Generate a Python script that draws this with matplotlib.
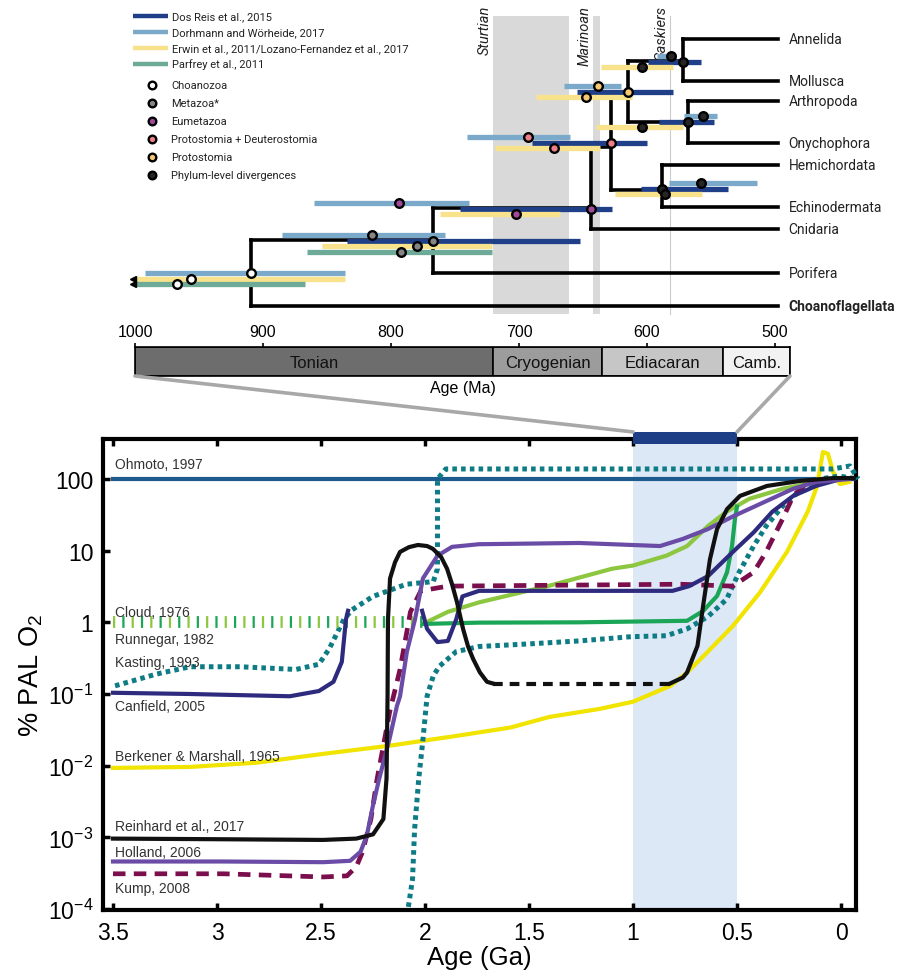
import numpy as np
import matplotlib
matplotlib.use('Agg')
import matplotlib.pyplot as plt
import matplotlib.transforms as mtransforms
from matplotlib.lines import Line2D
from matplotlib.patches import Rectangle, ConnectionPatch
from matplotlib.ticker import NullLocator

plt.rcParams['font.family'] = ['Liberation Sans', 'DejaVu Sans']
plt.rcParams['mathtext.default'] = 'regular'
plt.rcParams['lines.scale_dashes'] = False

# ---------------------------------------------------------------------------
# Divergence-time estimates (Ma): (oldest bound, youngest bound, estimate)
# np.inf marks an interval that runs beyond the left edge of the time axis.
# ---------------------------------------------------------------------------
dos_reis_2015 = {
    'Metazoa': (834, 652, 767),
    'Eumetazoa': (746, 627, 644),
    'Protostomia + Deuterostomia': (690, 600, 628),
    'Protostomia': (655, 580, 615),
    'Spiralia': (599, 558, 572),
    'Ecdysozoa': (591, 548, 568),
    'Deuterostomia': (605, 537, 588),
}
dohrmann_2017 = {
    'Choanozoa': (992, 836, 909),
    'Metazoa': (885, 758, 815),
    'Eumetazoa': (860, 739, 794),
    'Protostomia + Deuterostomia': (741, 660, 693),
    'Protostomia': (665, 620, 638),
    'Spiralia': (592, 577, 581),
    'Ecdysozoa': (571, 545, 556),
    'Deuterostomia': (583, 514, 558),
}
erwin_2011 = {
    'Choanozoa': (np.inf, 836, 956),
    'Metazoa': (854, 721, 780),
    'Eumetazoa': (762, 668, 702),
    'Protostomia + Deuterostomia': (719, 637, 673),
    'Protostomia': (687, 612, 648),
    'Spiralia': (636, 580, 604),
    'Ecdysozoa': (640, 572, 604),
    'Deuterostomia': (625, 557, 586),
}
parfrey_2011 = {
    'Choanozoa': (np.inf, 867, 967),
    'Metazoa': (866, 721, 792),
}

# tree topology (internal node -> two children) and the extant tips
tree_children = {
    'Choanozoa': ['Metazoa', 'Choanoflagellata'],
    'Metazoa': ['Eumetazoa', 'Porifera'],
    'Eumetazoa': ['Protostomia + Deuterostomia', 'Cnidaria'],
    'Protostomia + Deuterostomia': ['Protostomia', 'Deuterostomia'],
    'Protostomia': ['Spiralia', 'Ecdysozoa'],
    'Spiralia': ['Annelida', 'Mollusca'],
    'Ecdysozoa': ['Arthropoda', 'Onychophora'],
    'Deuterostomia': ['Hemichordata', 'Echinodermata'],
}
tips = ['Annelida', 'Mollusca', 'Arthropoda', 'Onychophora', 'Hemichordata',
        'Echinodermata', 'Cnidaria', 'Porifera', 'Choanoflagellata']
tip_age = 498

# glaciations (Ma)
sturtian = (720, 661)
marinoan = (642, 636.5)
gaskiers = 582

# geological periods (Ma)
period_names = ['Tonian', 'Cryogenian', 'Ediacaran', 'Camb.']
period_start = [1000, 720, 635, 541]
period_end = [720, 635, 541, 488.3]
ma_ticks = [1000, 900, 800, 700, 600, 500]

# ---------------------------------------------------------------------------
# Atmospheric O2 reconstructions: age (Ga) and % of present atmospheric level
# ---------------------------------------------------------------------------
ohmoto_1997_age = [3.50, -0.05]
ohmoto_1997_o2 = [100, 100]

cloud_1976_early_age = [3.50, 2.01]
cloud_1976_early_o2 = [1.0, 1.0]
cloud_1976_age = [2.01, 1.89, 1.74, 1.41, 1.10, 1.00, 0.84, 0.74, 0.64, 0.55, 0.44, 0.28, 0.12, 0.00]
cloud_1976_o2 = [0.95, 1.4, 1.9, 3.2, 5.6, 6.2, 8.5, 11.6, 22, 35, 53, 73, 91, 100]

runnegar_1982_early_age = [3.50, 2.01]
runnegar_1982_early_o2 = [1.0, 1.0]
runnegar_1982_age = [2.01, 1.74, 1.26, 0.74, 0.663, 0.596, 0.548, 0.524, 0.510, 0.500]
runnegar_1982_o2 = [0.95, 0.99, 1.0, 1.05, 1.44, 2.33, 5.0, 11.6, 27.6, 41]

kasting_1993_age = [3.49, 3.29, 3.13, 2.89, 2.62, 2.51, 2.46, 2.39, 2.35, 2.25, 2.09,
                    1.96, 1.94, 1.94, 1.94, 1.90, 1.59, 0.04, -0.043, -0.082]
kasting_1993_o2 = [0.13, 0.19, 0.24, 0.24, 0.22, 0.26, 0.43, 1.1, 1.5, 2.3, 3.4,
                   3.7, 5.6, 28, 100, 138, 138, 138, 152, 100]

kasting_1993_low_age = [2.08, 2.06, 2.05, 2.03, 2.01, 1.99, 1.96, 1.93, 1.85, 1.74, 1.50,
                        1.26, 1.01, 0.84, 0.74, 0.64, 0.55, 0.49, 0.42, 0.36, 0.28, 0.20,
                        0.10, 0.01, -0.08]
kasting_1993_low_o2 = [1.07e-4, 2.6e-4, 1.3e-3, 6.6e-3, 0.023, 0.093, 0.18, 0.245, 0.39, 0.46, 0.50,
                       0.55, 0.63, 0.65, 0.81, 1.2, 2.1, 5.0, 11.6, 22, 42, 68,
                       100, 110, 100]

canfield_2005_age = [3.50, 3.13, 2.65, 2.51, 2.44, 2.40, 2.38, 2.37]
canfield_2005_o2 = [0.104, 0.10, 0.093, 0.11, 0.148, 0.28, 1.1, 1.45]
canfield_2005_late_age = [2.014, 1.99, 1.94, 1.89, 1.85, 1.82, 1.74, 1.41, 0.81, 0.73, 0.64,
                          0.52, 0.42, 0.33, 0.23, 0.12, 0.00, -0.06]
canfield_2005_late_o2 = [1.45, 0.81, 0.53, 0.55, 1.1, 2.3, 2.75, 2.75, 2.75, 3.2, 4.4,
                         9.6, 18, 35, 58, 80, 100, 100]

berkner_1965_age = [3.50, 3.13, 2.81, 2.49, 2.17, 1.85, 1.59, 1.40, 1.16, 1.00, 0.82, 0.74,
                    0.64, 0.52, 0.39, 0.26, 0.16, 0.115, 0.087, 0.063, 0.038, 0.005, -0.04]
berkner_1965_o2 = [0.0093, 0.0096, 0.011, 0.0146, 0.019, 0.026, 0.034, 0.048, 0.062, 0.078,
                   0.13, 0.20, 0.39, 0.89, 2.6, 9.6, 35, 80, 238, 225, 125, 85, 91]

reinhard_2017_age = [3.50, 2.97, 2.49, 2.33, 2.25, 2.20, 2.185, 2.18, 2.178, 2.168, 2.144,
                     2.12, 2.077, 2.034, 1.99, 1.962, 1.923, 1.894, 1.87, 1.846, 1.817,
                     1.793, 1.769, 1.736, 1.702, 1.673]
reinhard_2017_o2 = [0.00096, 0.00094, 0.00092, 0.00096, 0.0011, 0.0018, 0.0066, 0.094, 1.1,
                    4.1, 6.9, 9.6, 11.2, 12, 11.6, 10.6, 8.2, 5.6, 3.4, 1.9, 0.81,
                    0.46, 0.31, 0.20, 0.148, 0.14]
reinhard_2017_gap_age = [1.673, 0.822]
reinhard_2017_gap_o2 = [0.14, 0.14]
reinhard_2017_late_age = [0.822, 0.76, 0.74, 0.69, 0.663, 0.63, 0.596, 0.548, 0.486,
                          0.356, 0.197, 0.038, -0.06]
reinhard_2017_late_o2 = [0.14, 0.17, 0.20, 0.47, 1.7, 7.6, 20, 38, 58, 80, 94, 103, 103]

holland_2006_age = [3.50, 2.97, 2.49, 2.36, 2.31, 2.28, 2.25, 2.22, 2.17, 2.135, 2.12, 2.087,
                    2.048, 2.01, 1.94, 1.87, 1.74, 1.26, 0.87, 0.76, 0.64, 0.52, 0.36, 0.23,
                    0.12, -0.04]
holland_2006_o2 = [4.6e-4, 4.6e-4, 4.5e-4, 4.7e-4, 6.3e-4, 1.05e-3, 2.8e-3, 6.6e-3, 0.024,
                   0.068, 0.093, 0.39, 1.1, 4.1, 8.5, 11.3, 12.3, 12.8, 11.6, 14.6, 20, 30,
                   49, 73, 91, 100]

kump_2008_age = [3.50, 2.97, 2.49, 2.375, 2.33, 2.30, 2.26, 2.23, 2.20, 2.17, 2.12, 2.07,
                 2.02, 1.89, 0.77, 0.52, 0.42, 0.36, 0.28, 0.23, 0.18, 0.10, 0.0]
kump_2008_o2 = [3.1e-4, 3.1e-4, 2.8e-4, 2.9e-4, 3.9e-4, 6.3e-4, 1.8e-3, 6.6e-3, 0.019,
                0.056, 0.22, 1.4, 2.75, 3.2, 3.4, 3.2, 5.0, 9.6, 28, 58, 80, 95, 100]

ga_ticks = [3.5, 3, 2.5, 2, 1.5, 1, 0.5, 0]
ga_tick_labels = ['3.5', '3', '2.5', '2', '1.5', '1', '0.5', '0']
o2_ticks = [1e-4, 1e-3, 1e-2, 1e-1, 1, 10, 100]
o2_tick_labels = ['$10^{-4}$', '$10^{-3}$', '$10^{-2}$', '$10^{-1}$', '1', '10', '100']
window_ga = (1.0, 0.5)

# ---------------------------------------------------------------------------
# styling
# ---------------------------------------------------------------------------
C_DOSREIS = '#1f3f88'
C_DOHRMANN = '#7aa9c9'
C_ERWIN = '#f8e38c'
C_PARFREY = '#6daa98'
clade_colors = {
    'Choanozoa': '#ffffff',
    'Metazoa': '#858585',
    'Eumetazoa': '#a04a98',
    'Protostomia + Deuterostomia': '#ec7f88',
    'Protostomia': '#f7c873',
    'Spiralia': '#262626',
    'Ecdysozoa': '#262626',
    'Deuterostomia': '#262626',
}
TOPFONT = ['Roboto', 'DejaVu Sans']

W, H = 897, 978
fig = plt.figure(figsize=(W / 100, H / 100), dpi=100)


def frac(x0, y0, x1, y1):
    return [x0 / W, 1 - y1 / H, (x1 - x0) / W, (y1 - y0) / H]


def fx(px):
    return px / W


def fy(py):
    return 1 - py / H


# ---------------------------------------------------------------------------
# upper panel: dated animal tree
# ---------------------------------------------------------------------------
axt = fig.add_axes(frac(135, 0, 790, 320))
axt.set_xlim(1000, 488.3)
axt.set_ylim(320, 0)
axt.axis('off')

# vertical layout (rows measured from the top of the panel)
row_y = {'Annelida': 40, 'Mollusca': 82, 'Arthropoda': 102, 'Onychophora': 144,
         'Hemichordata': 166, 'Echinodermata': 208, 'Cnidaria': 230, 'Porifera': 274,
         'Choanoflagellata': 307, 'Spiralia': 62, 'Ecdysozoa': 123, 'Deuterostomia': 191,
         'Protostomia': 94, 'Protostomia + Deuterostomia': 148, 'Eumetazoa': 209,
         'Metazoa': 241}
bar_top = {'Choanozoa': 274, 'Metazoa': 236, 'Eumetazoa': 204,
           'Protostomia + Deuterostomia': 138, 'Protostomia': 87, 'Spiralia': 57,
           'Ecdysozoa': 117, 'Deuterostomia': 184}
bar_step = 5.7
band_top, band_bottom = 17, 315

# node ages taken from the Dos Reis estimates (root from Dohrmann & Wörheide)
node_age = {c: v[2] for c, v in dos_reis_2015.items()}
node_age['Choanozoa'] = dohrmann_2017['Choanozoa'][2]

# glaciation bands
axt.fill_betweenx([band_top, band_bottom], sturtian[0], sturtian[1], color='#d9d9d9', lw=0, zorder=0)
axt.fill_betweenx([band_top, band_bottom], marinoan[0], marinoan[1], color='#d9d9d9', lw=0, zorder=0)
axt.plot([gaskiers, gaskiers], [band_top, band_bottom], color='#cccccc', lw=0.8, zorder=0)
for xg, name in [(sturtian[0], 'Sturtian'), (marinoan[0], 'Marinoan'), (gaskiers, 'Gaskiers')]:
    axt.annotate(name, (xg, 6), xytext=(-1.5, 0), textcoords='offset points', rotation=90,
                 ha='right', va='top', style='italic', fontsize=10.5, family=TOPFONT,
                 color='#222222', annotation_clip=False)

# tree branches
for node, kids in tree_children.items():
    x = node_age[node]
    ys = [row_y[k] for k in kids]
    axt.plot([x, x], [min(ys), max(ys)], color='black', lw=2.6,
             solid_capstyle='projecting', zorder=2)
    for k in kids:
        kx = node_age.get(k, tip_age)
        axt.plot([x, kx], [row_y[k], row_y[k]], color='black', lw=2.6,
                 solid_capstyle='projecting', zorder=2)

for t in tips:
    axt.annotate(t, (tip_age, row_y[t]), xytext=(8, 0), textcoords='offset points',
                 ha='left', va='center', fontsize=10, family=TOPFONT,
                 fontweight='bold' if t == 'Choanoflagellata' else 'normal',
                 color='#222222', annotation_clip=False)

# uncertainty bars and point estimates, stacked per clade
bar_studies = [(dohrmann_2017, C_DOHRMANN), (dos_reis_2015, C_DOSREIS),
               (erwin_2011, C_ERWIN), (parfrey_2011, C_PARFREY)]
for clade in bar_top:
    k = 0
    for study, col in bar_studies:
        if clade not in study:
            continue
        old, young, est = study[clade]
        yb = bar_top[clade] + k * bar_step
        left = min(old, 1000)
        axt.plot([left, young], [yb, yb], color=col, lw=3.8, solid_capstyle='butt', zorder=3)
        if np.isinf(old):
            axt.plot(1001.5, yb, marker='<', ms=4.5, color='black', clip_on=False, zorder=4)
        axt.plot(est, yb, 'o', ms=6.2, mfc=clade_colors[clade], mec='black', mew=1.7,
                 zorder=5, clip_on=False)
        k += 1

# legend
legend_studies = [('Dos Reis et al., 2015', C_DOSREIS),
                  ('Dorhmann and Wörheide, 2017', C_DOHRMANN),
                  ('Erwin et al., 2011/Lozano-Fernandez et al., 2017', C_ERWIN),
                  ('Parfrey et al., 2011', C_PARFREY)]
for (label, col), yy in zip(legend_studies, [17, 33, 49, 65]):
    fig.add_artist(Line2D([fx(133), fx(168)], [fy(yy), fy(yy)], transform=fig.transFigure,
                          color=col, lw=3.2, solid_capstyle='butt'))
    fig.text(fx(172), fy(yy), label, fontsize=8.0, family=TOPFONT, ha='left', va='center',
             color='#222222')
legend_clades = [('Choanozoa', 'Choanozoa'), ('Metazoa', 'Metazoa*'), ('Eumetazoa', 'Eumetazoa'),
                 ('Protostomia + Deuterostomia', 'Protostomia + Deuterostomia'),
                 ('Protostomia', 'Protostomia'), ('Spiralia', 'Phylum-level divergences')]
for (clade, label), yy in zip(legend_clades, [86, 104, 122, 140, 158, 176]):
    fig.add_artist(Line2D([fx(152)], [fy(yy)], transform=fig.transFigure, marker='o', ms=5.5,
                          mfc=clade_colors[clade], mec='black', mew=1.7, lw=0))
    fig.text(fx(171), fy(yy), label, fontsize=8.0, family=TOPFONT, ha='left', va='center',
             color='#222222')

# ---------------------------------------------------------------------------
# period bar with the Ma scale
# ---------------------------------------------------------------------------
axp = fig.add_axes(frac(135, 348, 790, 377))
axp.set_xlim(1000, 488.3)
axp.set_ylim(0, 1)
period_colors = ['#6d6d6d', '#9c9c9c', '#c6c6c6', '#f2f2f2']
for name, a0, a1, col in zip(period_names, period_start, period_end, period_colors):
    axp.axvspan(a0, a1, facecolor=col, edgecolor='black', lw=1.2)
    axp.text((a0 + a1) / 2, 0.48, name, ha='center', va='center', fontsize=12, color='#111111')
axp.set_yticks([])
axp.xaxis.tick_top()
axp.set_xticks(ma_ticks)
axp.set_xticklabels([str(t) for t in ma_ticks])
axp.tick_params(axis='x', direction='out', length=3, width=1.2, pad=3, labelsize=11.5)
axp.xaxis.set_label_position('bottom')
axp.set_xlabel('Age (Ma)', fontsize=11.5, labelpad=3)
for s in axp.spines.values():
    s.set_linewidth(1.2)

# ---------------------------------------------------------------------------
# lower panel: O2 history
# ---------------------------------------------------------------------------
ax = fig.add_axes(frac(103, 440, 856, 911))
ax.set_yscale('log')
ax.set_xlim(3.548, -0.072)
ax.set_ylim(10 ** -4.014, 10 ** 2.558)
ax.axvspan(window_ga[0], window_ga[1], color='#dce8f6', lw=0, zorder=0)

LW = 3.0
dot = dict(ls=(0, (3.3, 3.0)), lw=3.6, dash_capstyle='butt')
ax.plot(ohmoto_1997_age, ohmoto_1997_o2, color='#1d5b8f', lw=LW, clip_on=False, zorder=2)
ax.plot(berkner_1965_age, berkner_1965_o2, color='#f0e400', lw=LW, clip_on=False, zorder=2)
ax.plot(kasting_1993_low_age, kasting_1993_low_o2, color='#0e7c84', clip_on=False, zorder=3, **dot)
ax.plot(kasting_1993_age, kasting_1993_o2, color='#0e7c84', clip_on=False, zorder=3, **dot)
ax.plot(cloud_1976_early_age, cloud_1976_early_o2, color='#8dc63f', lw=8.5,
        ls=(0, (1.6, 11.8)), clip_on=False, zorder=3)
ax.plot(runnegar_1982_early_age, runnegar_1982_early_o2, color='#1aa557', lw=8.5,
        ls=(6.7, (1.6, 11.8)), clip_on=False, zorder=3)
ax.plot(cloud_1976_age, cloud_1976_o2, color='#8dc63f', lw=LW, clip_on=False, zorder=3)
ax.plot(runnegar_1982_age, runnegar_1982_o2, color='#1aa557', lw=LW, clip_on=False, zorder=3)
ax.plot(kump_2008_age, kump_2008_o2, color='#7b0f4e', lw=3.4, ls=(0, (9, 6)),
        dash_capstyle='butt', clip_on=False, zorder=3)
ax.plot(canfield_2005_age, canfield_2005_o2, color='#2e2b7f', lw=LW, clip_on=False, zorder=4)
ax.plot(canfield_2005_late_age, canfield_2005_late_o2, color='#2e2b7f', lw=LW, clip_on=False, zorder=4)
ax.plot(holland_2006_age, holland_2006_o2, color='#6a4ca6', lw=LW, clip_on=False, zorder=4)
ax.plot(reinhard_2017_age, reinhard_2017_o2, color='#111111', lw=LW, clip_on=False, zorder=5,
        solid_joinstyle='round')
ax.plot(reinhard_2017_gap_age, reinhard_2017_gap_o2, color='#111111', lw=LW, ls=(0, (7, 5)),
        dash_capstyle='butt', clip_on=False, zorder=5)
ax.plot(reinhard_2017_late_age, reinhard_2017_late_o2, color='#111111', lw=LW, clip_on=False,
        zorder=5)

# curve labels
label_style = dict(fontsize=10, color='#333333', ha='left', va='center')
for text, yv in [('Ohmoto, 1997', 162), ('Cloud, 1976', 1.39), ('Runnegar, 1982', 0.586),
                 ('Kasting, 1993', 0.28), ('Canfield, 2005', 0.068),
                 ('Berkener & Marshall, 1965', 0.0136), ('Reinhard et al., 2017', 0.00144),
                 ('Holland, 2006', 6.25e-4), ('Kump, 2008', 1.96e-4)]:
    ax.text(3.49, yv, text, **label_style)

ax.set_xticks(ga_ticks)
ax.set_xticklabels(ga_tick_labels)
ax.set_yticks(o2_ticks)
ax.set_yticklabels(o2_tick_labels)
ax.yaxis.set_minor_locator(NullLocator())
ax.tick_params(axis='x', direction='in', top=True, length=5, width=2.5, pad=8, labelsize=16.5)
ax.tick_params(axis='y', direction='in', length=5, width=2.5, pad=7, labelsize=16.5)
for s in ax.spines.values():
    s.set_linewidth(3)
ax.set_xlabel('Age (Ga)', fontsize=18.5, labelpad=1)
ax.set_ylabel('% PAL O$_2$', fontsize=19.5, labelpad=2)

# zoom window: highlighted interval and connectors to the period bar
top_tr = mtransforms.blended_transform_factory(ax.transData, ax.transAxes)
ax.add_patch(Rectangle((window_ga[0], 0.989), window_ga[1] - window_ga[0], 0.026,
                       transform=top_tr, facecolor='#1e3f86', edgecolor='none',
                       clip_on=False, zorder=6))
for ma_end, ga_end in [(1000, window_ga[0]), (488.3, window_ga[1])]:
    con = ConnectionPatch(xyA=(ma_end, 0), coordsA=axp.transData,
                          xyB=(ga_end, 1.015), coordsB=top_tr,
                          color='#a8a8a8', lw=2.6, zorder=1)
    fig.add_artist(con)

fig.savefig('out.png', dpi=100)
